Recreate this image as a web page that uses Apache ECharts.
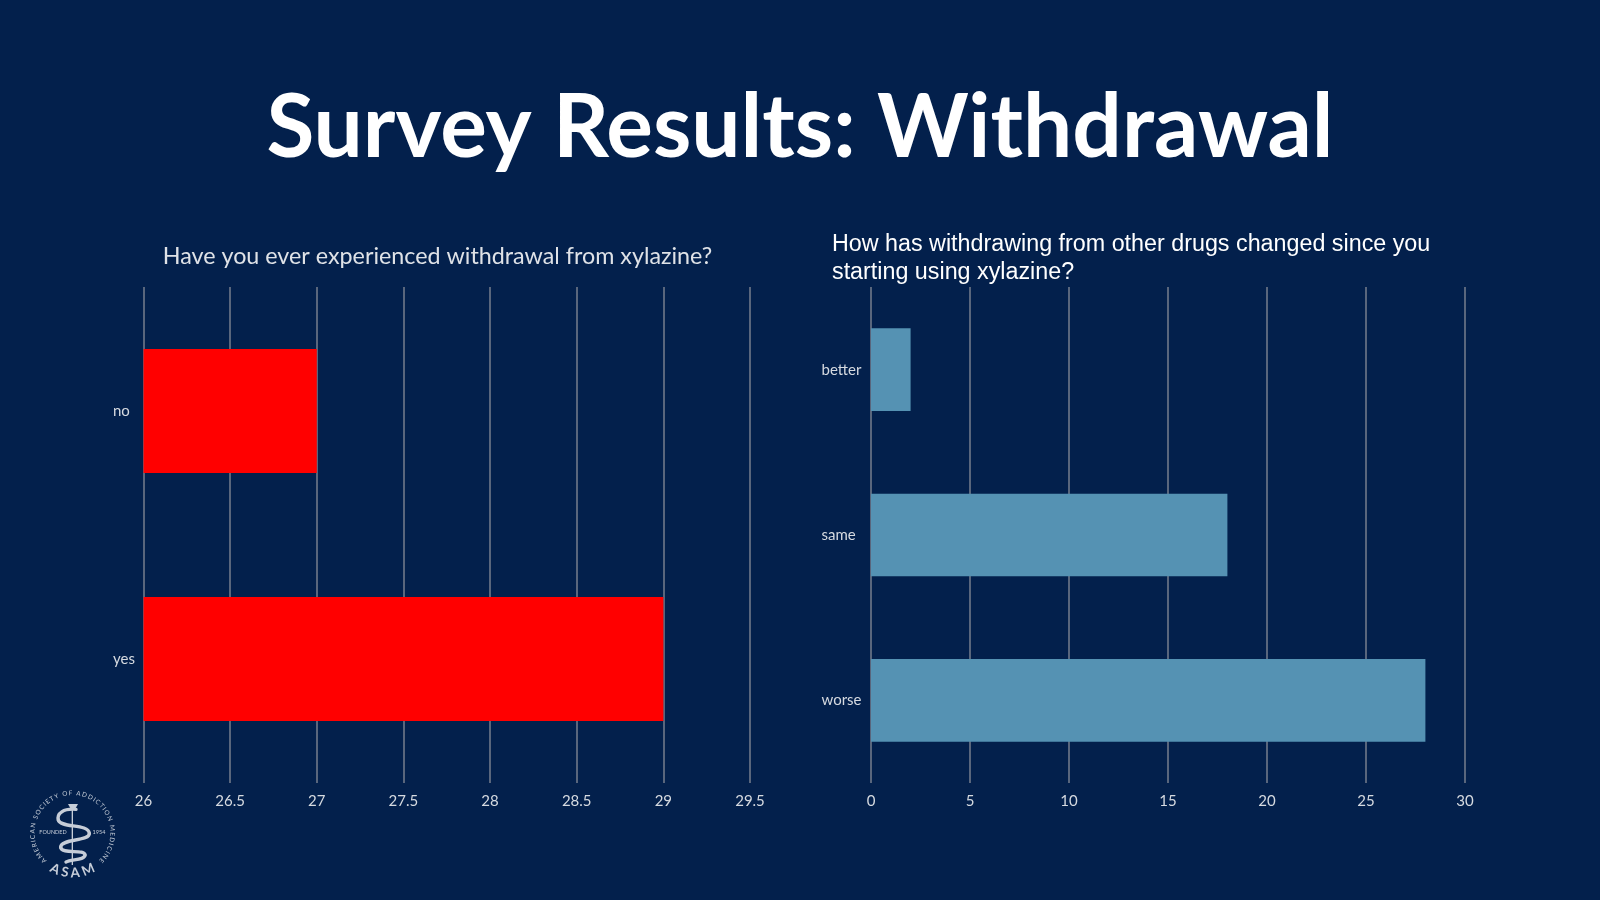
<!DOCTYPE html>
<html><head><meta charset="utf-8">
<style>html,body{margin:0;padding:0;background:#03204c}#c{width:1600px;height:900px}</style>
<script src="https://cdn.jsdelivr.net/npm/echarts@6/dist/echarts.min.js"></script>
</head><body><div id="c"></div>
<script>
const pageTitle = 'Survey Results: Withdrawal';
const leftTitle = 'Have you ever experienced withdrawal from xylazine?';
const rightTitle = 'How has withdrawing from other drugs changed since you\nstarting using xylazine?';
const leftCategories = ['yes', 'no'];
const leftValues = [29, 27];
const rightCategories = ['worse', 'same', 'better'];
const rightValues = [28, 18, 2];
const ringText = 'AMERICAN SOCIETY OF ADDICTION MEDICINE';
const logoWord = 'ASAM';

const BG = '#03204c', GRID = '#70798a', LABEL = '#d6dae0', LOGO = '#c6cdd8';
const CX = 72.5, CY = 833;

function arcLetters(text, r, a0, a1, font, flip) {
  const ctx = document.createElement('canvas').getContext('2d');
  ctx.font = font;
  const w = Array.from(text).map(ch => ctx.measureText(ch).width + 0.6);
  const total = w.reduce((s, v) => s + v, 0);
  let run = 0;
  return Array.from(text).map((ch, i) => {
    const deg = a0 + (a1 - a0) * (run + w[i] / 2) / total;
    run += w[i];
    const a = deg * Math.PI / 180;
    return { type: 'text', x: CX + r * Math.sin(a), y: CY - r * Math.cos(a),
      rotation: flip ? -(a - Math.PI) : -a,
      style: { text: ch, fill: LOGO, font, align: 'center', verticalAlign: 'middle' } };
  });
}
// one bezier piece of the snake, in the logo's own 3x units
function snake(x0, y0, c1x, c1y, c2x, c2y, x1, y1) {
  return { type: 'bezierCurve', x: 0, y: 740, scaleX: 1/3, scaleY: 1/3,
    shape: { x1: x0, y1: y0, cpx1: c1x, cpy1: c1y, cpx2: c2x, cpy2: c2y, x2: x1, y2: y1 },
    style: { fill: null, stroke: LOGO, lineWidth: 10, lineCap: 'round' } };
}
const logo = [
  ...arcLetters(ringText, 40, -138, 137, '6.4px Lato', false),
  ...arcLetters(logoWord, 40, 214, 146, 'bold 13.5px Lato', true),
  { type: 'line', x: 0, y: 740, scaleX: 1/3, scaleY: 1/3,
    shape: { x1: 217, y1: 195, x2: 217, y2: 375 },
    style: { stroke: LOGO, lineWidth: 4 } },
  snake(228, 208, 190, 205, 170, 220, 175, 240),
  snake(175, 240, 182, 265, 265, 250, 268, 280),
  snake(268, 280, 270, 305, 180, 295, 182, 322),
  snake(182, 322, 185, 345, 255, 325, 255, 345),
  snake(255, 345, 255, 360, 215, 358, 198, 366),
  { type: 'polygon', x: 0, y: 740, scaleX: 1/3, scaleY: 1/3,
    shape: { points: [[204, 192], [234, 192], [226, 206], [212, 206]] },
    style: { fill: LOGO } },
  { type: 'text', x: 53, y: 832, style: { text: 'FOUNDED', fill: LOGO, font: '5.5px Lato', align: 'center', verticalAlign: 'middle' } },
  { type: 'text', x: 99, y: 832, style: { text: '1954', fill: LOGO, font: '5.5px Lato', align: 'center', verticalAlign: 'middle' } }
];

function valueAxis(gridIndex, min, max, interval) {
  return { type: 'value', gridIndex, min, max, interval,
    axisLine: { show: false }, axisTick: { show: false },
    splitLine: { show: true, lineStyle: { color: GRID, width: 1.6 } },
    axisLabel: { color: LABEL, fontFamily: 'Lato', fontSize: 15, margin: 11 } };
}
function catAxis(gridIndex, data, margin) {
  return { type: 'category', gridIndex, data,
    axisLine: { show: false }, axisTick: { show: false },
    axisLabel: { color: LABEL, fontFamily: 'Lato', fontSize: 15, margin, align: 'left', padding: [5, 0, 0, 0] } };
}

const chart = echarts.init(document.getElementById('c'));
chart.setOption({
  backgroundColor: BG,
  animation: false,
  title: [
    { text: pageTitle, left: 795, top: 80, textAlign: 'center',
      textStyle: { color: '#ffffff', fontFamily: 'Lato', fontWeight: 'bold', fontSize: 87.4 } },
    { text: leftTitle, left: 432.5, top: 240, textAlign: 'center',
      textStyle: { color: '#dfe2e7', fontFamily: 'Lato', fontWeight: 'normal', fontSize: 23.3 } },
    { text: rightTitle, left: 827, top: 226,
      textStyle: { color: '#ffffff', fontFamily: 'Liberation Sans', fontWeight: 'normal', fontSize: 23.3, lineHeight: 28 } }
  ],
  grid: [
    { left: 143.5, top: 287, width: 606.5, height: 496 },
    { left: 871, top: 287, width: 594, height: 496 }
  ],
  xAxis: [valueAxis(0, 26, 29.5, 0.5), valueAxis(1, 0, 30, 5)],
  yAxis: [catAxis(0, leftCategories, 30.5), catAxis(1, rightCategories, 49.5)],
  series: [
    { type: 'bar', xAxisIndex: 0, yAxisIndex: 0, data: leftValues, barWidth: '50%',
      itemStyle: { color: '#ff0000' } },
    { type: 'bar', xAxisIndex: 1, yAxisIndex: 1, data: rightValues, barWidth: '50%',
      itemStyle: { color: '#5592b3' } }
  ],
  graphic: logo
});
</script></body></html>
